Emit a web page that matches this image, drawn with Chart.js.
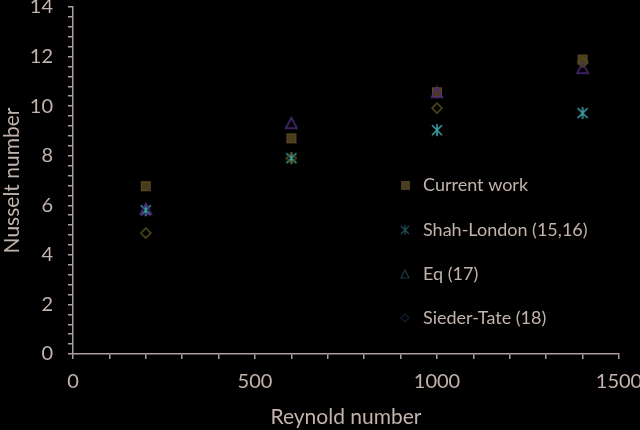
<!DOCTYPE html>
<html>
<head>
<meta charset="utf-8">
<script src="https://cdn.jsdelivr.net/npm/chart.js@4"></script>
<style>
  html, body { margin: 0; padding: 0; background: #000; }
  #nu-chart { display: block; }
</style>
</head>
<body>
<canvas id="nu-chart" width="640" height="430"></canvas>
<script>
// Reynolds numbers tested
const reynolds = [200, 600, 1000, 1400];

// Nusselt number for each method
const currentWork = [6.77, 8.7, 10.56, 11.88];
const shahLondon = [5.8, 7.9, 9.03, 9.72];
const eq17 = [5.85, 9.31, 10.56, 11.53];
const siederTate = [4.88, 7.9, 9.92, 11.77];

const seriesLabels = ['Current work', 'Shah-London (15,16)', 'Eq (17)', 'Sieder-Tate (18)'];

const textColor = '#c2b3ad';
const axisColor = '#ab9d9b';

// small canvases used as point markers
function marker(size, draw) {
  const c = document.createElement('canvas');
  c.width = size;
  c.height = size;
  const g = c.getContext('2d');
  draw(g, size);
  return c;
}

const squareMark = marker(12, (g, s) => {
  g.fillStyle = '#4a3c1a';
  g.fillRect(1, 1, s - 2, s - 2);
  g.strokeStyle = '#5b4a24';
  g.lineWidth = 1;
  g.strokeRect(1.5, 1.5, s - 3, s - 3);
});

const starMark = marker(14, (g, s) => {
  g.strokeStyle = '#3a9ea3';
  g.lineWidth = 1.6;
  g.beginPath();
  g.moveTo(s / 2, 1); g.lineTo(s / 2, s - 1);
  g.moveTo(2, 2); g.lineTo(s - 2, s - 2);
  g.moveTo(s - 2, 2); g.lineTo(2, s - 2);
  g.stroke();
});

const triMark = marker(14, (g, s) => {
  g.strokeStyle = '#4e2a80';
  g.lineWidth = 1.6;
  g.beginPath();
  g.moveTo(s / 2, 1.5); g.lineTo(s - 1.5, s - 2); g.lineTo(1.5, s - 2);
  g.closePath();
  g.stroke();
});

const diaMark = marker(12, (g, s) => {
  g.strokeStyle = '#544e1c';
  g.lineWidth = 1.5;
  g.beginPath();
  g.moveTo(s / 2, 1); g.lineTo(s - 1, s / 2); g.lineTo(s / 2, s - 1); g.lineTo(1, s / 2);
  g.closePath();
  g.stroke();
});

function toPoints(vals) {
  return reynolds.map((r, i) => ({ x: r, y: vals[i] }));
}

// legend drawn inside the plot, like the original
const legendMarks = ['#4a3e20', '#1e4d5a', '#1a3a4a', '#141c32'];
const plotLegend = {
  id: 'plotLegend',
  afterDraw(chart) {
    const g = chart.ctx;
    const rows = [185, 230, 274, 318];
    g.save();
    g.font = '18px Lato';
    g.textBaseline = 'middle';
    rows.forEach((y, i) => {
      const x = 405;
      g.fillStyle = legendMarks[i];
      g.strokeStyle = legendMarks[i];
      g.lineWidth = 1.2;
      if (i === 0) {
        g.fillRect(x - 4, y - 4, 9, 9);
      } else if (i === 1) {
        g.beginPath();
        g.moveTo(x, y - 5); g.lineTo(x, y + 5);
        g.moveTo(x - 4, y - 4); g.lineTo(x + 4, y + 4);
        g.moveTo(x + 4, y - 4); g.lineTo(x - 4, y + 4);
        g.stroke();
      } else if (i === 2) {
        g.beginPath();
        g.moveTo(x, y - 4); g.lineTo(x + 4, y + 4); g.lineTo(x - 4, y + 4);
        g.closePath();
        g.stroke();
      } else {
        g.beginPath();
        g.moveTo(x, y - 4); g.lineTo(x + 4, y); g.lineTo(x, y + 4); g.lineTo(x - 4, y);
        g.closePath();
        g.stroke();
      }
      g.fillStyle = textColor;
      g.fillText(chart.data.datasets[i].label, 423, y);
    });
    g.restore();
  }
};

const nuData = {
  datasets: [
    { label: seriesLabels[0], data: toPoints(currentWork), pointStyle: squareMark, order: 4 },
    { label: seriesLabels[1], data: toPoints(shahLondon), pointStyle: starMark, order: 3 },
    { label: seriesLabels[2], data: toPoints(eq17), pointStyle: triMark, order: 2 },
    { label: seriesLabels[3], data: toPoints(siederTate), pointStyle: diaMark, order: 1 }
  ]
};

const ctx = document.getElementById('nu-chart').getContext('2d');

const nuChart = new Chart(ctx, {
  type: 'scatter',
  data: nuData,
  plugins: [plotLegend],
  options: {
    responsive: false,
    animation: false,
    layout: { padding: { top: 7, right: 21, left: 0, bottom: 0 } },
    plugins: {
      legend: { display: false },
      tooltip: { enabled: false }
    },
    scales: {
      x: {
        type: 'linear',
        min: 0,
        max: 1500,
        border: { color: axisColor, width: 1.5 },
        grid: { drawOnChartArea: false, color: axisColor, tickLength: 5, lineWidth: 1.5 },
        ticks: {
          stepSize: 100,
          autoSkip: false,
          maxRotation: 0,
          color: textColor,
          font: { size: 20, family: 'Lato' },
          padding: 11,
          callback: v => (v % 500 === 0 ? v : '')
        },
        title: {
          display: true,
          text: 'Reynold number',
          color: textColor,
          font: { size: 21, family: 'Lato' },
          padding: { top: 0, bottom: 0 }
        },
        afterFit(scale) {
          scale.height = 76;
          scale.paddingLeft = 0;
          scale.paddingRight = 0;
        }
      },
      y: {
        min: 0,
        max: 14,
        border: { color: axisColor, width: 1.5 },
        grid: { drawOnChartArea: false, color: axisColor, tickLength: 5, lineWidth: 1.5 },
        ticks: {
          stepSize: 0.4,
          autoSkip: false,
          color: textColor,
          font: { size: 20, family: 'Lato' },
          padding: 15,
          callback: v => (Math.abs(v / 2 - Math.round(v / 2)) < 1e-6 ? Math.round(v) : '')
        },
        title: {
          display: true,
          text: 'Nusselt number',
          color: textColor,
          font: { size: 21, family: 'Lato' },
          padding: { top: 0, bottom: 4 }
        },
        afterFit(scale) {
          scale.width = 73;
          scale.paddingTop = 0;
          scale.paddingBottom = 0;
        }
      }
    }
  }
});
</script>
</body>
</html>
